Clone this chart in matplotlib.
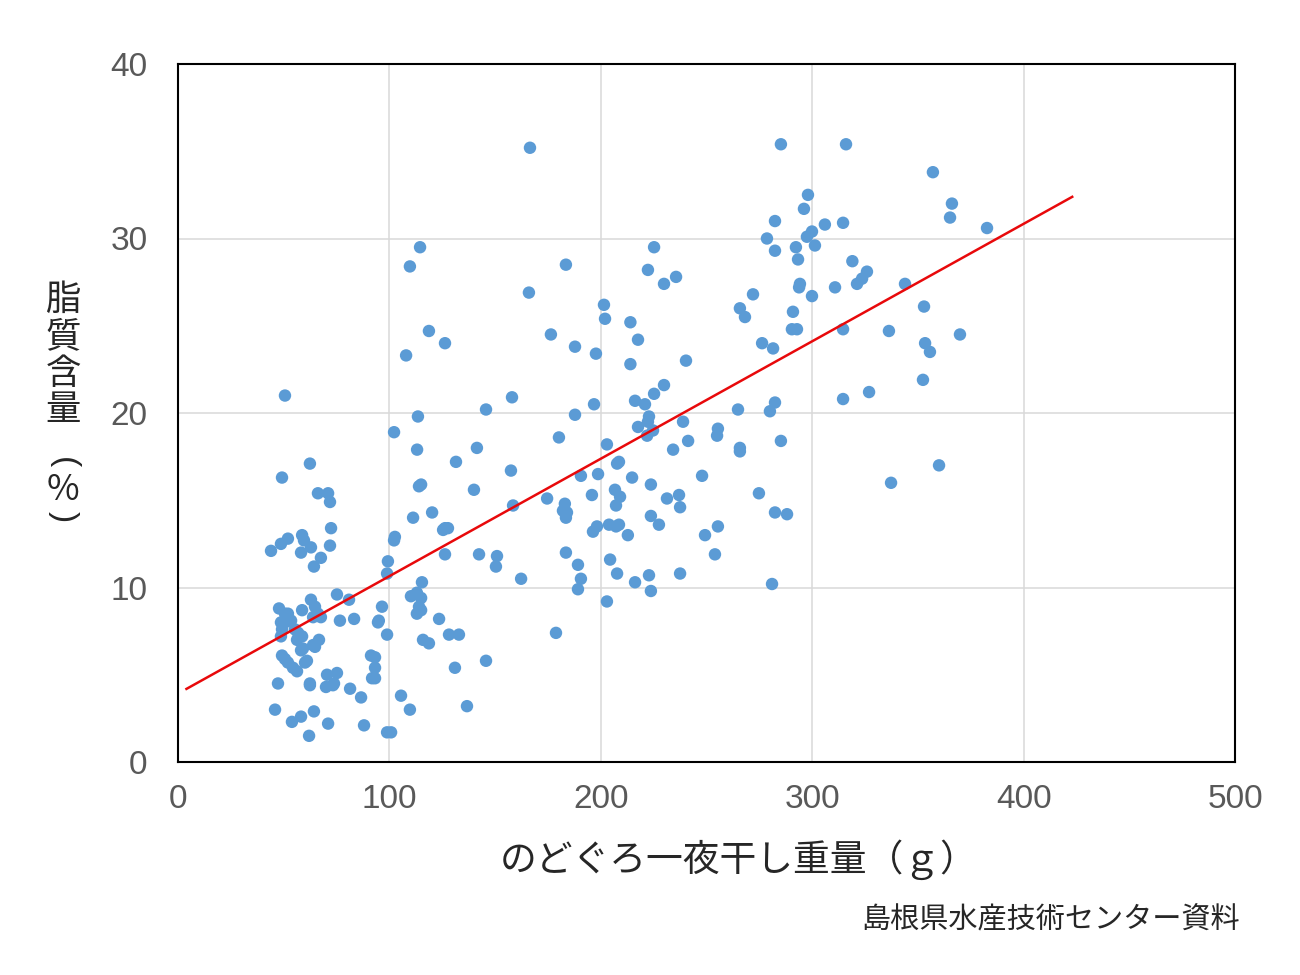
import matplotlib
matplotlib.use("Agg")
import matplotlib.pyplot as plt
import numpy as np

weight_g = [
    50.6, 49.2, 62.4, 66.2, 71.0, 71.9, 72.4, 48.7, 52.0, 58.7, 59.6, 62.9, 71.9, 44.0, 58.2,
    67.6, 64.3, 99.3, 98.9, 75.2, 80.9, 96.5, 47.8, 50.6, 52.0, 62.9, 58.7, 64.8, 66.2, 63.9,
    67.6, 48.7, 50.6, 52.0, 49.2, 48.7, 53.5, 55.3, 76.6, 83.3, 94.6, 95.0, 98.9, 56.8, 58.7,
    56.3, 63.9, 64.8, 66.7, 58.2, 59.1, 49.2, 50.6, 52.0, 54.4, 56.3, 60.1, 61.0, 47.3, 62.4,
    62.4, 70.5, 75.2, 70.0, 73.3, 73.8, 81.4, 86.6, 91.3, 93.2, 93.2, 91.8, 93.2, 45.9, 64.3,
    53.9, 58.2, 71.0, 88.0, 62.0, 98.9, 100.8,
    113.5, 102.2, 113.1, 115.0, 114.0, 111.2, 102.2, 102.6, 115.4, 110.2, 113.0, 115.0, 114.0,
    115.0, 113.0, 105.5, 109.7, 115.9, 118.7, 123.5, 128.2, 132.9, 131.0, 136.7, 145.7, 178.8,
    114.5, 109.7, 166.5, 183.5, 166.0, 118.7, 126.3, 107.9, 176.4, 187.8, 197.7, 158.0, 145.7,
    187.8, 196.8, 141.4, 131.5, 180.2, 157.5, 140.0, 190.6, 198.7, 174.6, 195.8, 158.5, 183.0,
    182.1, 184.0, 183.5, 120.2, 126.3, 127.7, 125.4, 196.3, 198.2, 126.3, 142.4, 150.9, 150.4,
    162.3, 183.5, 189.2, 190.6, 189.2,
    202.9, 207.7, 208.6, 206.7, 209.1, 207.2, 203.9, 207.2, 208.6, 212.8, 204.4, 207.7, 202.9,
    201.5, 202.0, 214.0, 214.0, 285.2, 298.0, 296.1, 282.4, 306.0, 314.6, 299.9, 297.5, 301.3,
    278.6, 282.4, 292.3, 293.3, 225.2, 222.3, 235.6, 229.9, 294.2, 293.8, 299.9, 310.8, 272.0,
    265.8, 268.2, 217.6, 240.3, 290.9, 290.4, 292.8, 276.3, 281.5, 314.6, 229.9, 225.2, 216.2,
    220.9, 222.8, 222.3, 217.6, 224.7, 238.9, 255.4, 255.0, 241.3, 264.9, 280.0, 282.4, 314.6,
    221.9, 285.2, 234.2, 265.8, 265.8, 214.8, 223.7, 247.9, 231.3, 237.0, 237.5, 223.7, 227.5,
    249.3, 255.4, 274.8, 282.4, 288.1, 254.0, 216.2, 222.8, 223.7, 237.5, 281.0,
    316.0, 357.1, 366.1, 365.2, 382.7, 319.0, 325.9, 323.6, 321.2, 343.9, 352.9, 336.3, 353.4,
    355.7, 369.9, 326.9, 352.4, 360.0, 337.3,
]

lipid_pct = [
    21.0, 16.3, 17.1, 15.4, 15.4, 14.9, 13.4, 12.5, 12.8, 13.0, 12.7, 12.3, 12.4, 12.1, 12.0,
    11.7, 11.2, 11.5, 10.8, 9.6, 9.3, 8.9, 8.8, 8.5, 8.5, 9.3, 8.7, 8.9, 8.5, 8.3,
    8.3, 8.0, 8.0, 8.1, 7.6, 7.2, 8.1, 7.6, 8.1, 8.2, 8.0, 8.1, 7.3, 7.4, 7.2,
    7.0, 6.7, 6.6, 7.0, 6.4, 6.5, 6.1, 5.9, 5.7, 5.4, 5.2, 5.7, 5.8, 4.5, 4.5,
    4.4, 5.0, 5.1, 4.3, 4.4, 4.5, 4.2, 3.7, 6.1, 6.0, 5.4, 4.8, 4.8, 3.0, 2.9,
    2.3, 2.6, 2.2, 2.1, 1.5, 1.7, 1.7,
    19.8, 18.9, 17.9, 15.9, 15.8, 14.0, 12.7, 12.9, 10.3, 9.5, 9.7, 9.4, 8.9,
    8.7, 8.5, 3.8, 3.0, 7.0, 6.8, 8.2, 7.3, 7.3, 5.4, 3.2, 5.8, 7.4,
    29.5, 28.4, 35.2, 28.5, 26.9, 24.7, 24.0, 23.3, 24.5, 23.8, 23.4, 20.9, 20.2,
    19.9, 20.5, 18.0, 17.2, 18.6, 16.7, 15.6, 16.4, 16.5, 15.1, 15.3, 14.7, 14.8,
    14.4, 14.3, 14.0, 14.3, 13.4, 13.4, 13.3, 13.2, 13.5, 11.9, 11.9, 11.8, 11.2,
    10.5, 12.0, 11.3, 10.5, 9.9,
    18.2, 17.1, 17.2, 15.6, 15.2, 14.7, 13.6, 13.5, 13.6, 13.0, 11.6, 10.8, 9.2,
    26.2, 25.4, 25.2, 22.8, 35.4, 32.5, 31.7, 31.0, 30.8, 30.9, 30.4, 30.1, 29.6,
    30.0, 29.3, 29.5, 28.8, 29.5, 28.2, 27.8, 27.4, 27.4, 27.2, 26.7, 27.2, 26.8,
    26.0, 25.5, 24.2, 23.0, 25.8, 24.8, 24.8, 24.0, 23.7, 24.8, 21.6, 21.1, 20.7,
    20.5, 19.8, 19.5, 19.2, 19.0, 19.5, 19.1, 18.7, 18.4, 20.2, 20.1, 20.6, 20.8,
    18.7, 18.4, 17.9, 18.0, 17.8, 16.3, 15.9, 16.4, 15.1, 15.3, 14.6, 14.1, 13.6,
    13.0, 13.5, 15.4, 14.3, 14.2, 11.9, 10.3, 10.7, 9.8, 10.8, 10.2,
    35.4, 33.8, 32.0, 31.2, 30.6, 28.7, 28.1, 27.7, 27.4, 27.4, 26.1, 24.7, 24.0,
    23.5, 24.5, 21.2, 21.9, 17.0, 16.0,
]

x_ticks = [0, 100, 200, 300, 400, 500]
y_ticks = [0, 10, 20, 30, 40]
trend_range = [4, 423]
trend_intercept = 3.92
trend_slope = 0.0673

x_label = "のどぐろ一夜干し重量（ｇ）"
y_label_chars = ["脂", "質", "含", "量"]
y_label_paren = ["(", "%", ")"]
source_text = "島根県水産技術センター資料"

plt.rcParams['font.family'] = ['Noto Sans CJK JP', 'DejaVu Sans']

W, H = 1300, 975
fig = plt.figure(figsize=(W / 100, H / 100), dpi=100)
ax = fig.add_axes([178 / W, 1 - 762 / H, (1235 - 178) / W, (762 - 64) / H])

ax.set_xlim(0, 500)
ax.set_ylim(0, 40)
ax.set_xticks(x_ticks)
ax.set_yticks(y_ticks)
ax.grid(True, color="#d9d9d9", linewidth=1.1)
ax.set_axisbelow(True)
ax.tick_params(axis="x", length=0, labelsize=24, colors="#595959", pad=16)
ax.tick_params(axis="y", length=0, labelsize=24, colors="#595959", pad=22)
for lab in ax.get_xticklabels() + ax.get_yticklabels():
    lab.set_fontfamily(['Liberation Sans', 'DejaVu Sans'])
for s in ax.spines.values():
    s.set_color("black")
    s.set_linewidth(1.5)

ax.scatter(weight_g, lipid_pct, s=80, color="#5B9BD5", edgecolors="none", zorder=3)

tx = np.array(trend_range, dtype=float)
ax.plot(tx, trend_intercept + trend_slope * tx, color="#E8090B", linewidth=1.8, zorder=4)

fig.text(739 / W, 1 - 860 / H, x_label, ha="center", va="center", fontsize=26.5, color="#262626")

ys = [300, 337, 374, 410]
for ch, yy in zip(y_label_chars, ys):
    fig.text(63 / W, 1 - yy / H, ch, ha="center", va="center", fontsize=25.5, color="#262626")

paren_font = ['Liberation Sans', 'DejaVu Sans']
fig.text(63 / W, 1 - 463 / H, y_label_paren[0], ha="center", va="center", fontsize=24,
         color="#262626", rotation=-90, family=paren_font)
fig.text(63 / W, 1 - 490 / H, y_label_paren[1], ha="center", va="center", fontsize=25.5,
         color="#262626")
fig.text(63 / W, 1 - 517 / H, y_label_paren[2], ha="center", va="center", fontsize=24,
         color="#262626", rotation=-90, family=paren_font)

fig.text(1240 / W, 1 - 920 / H, source_text, ha="right", va="center", fontsize=21, color="#262626")

fig.savefig("out.png", dpi=100)
